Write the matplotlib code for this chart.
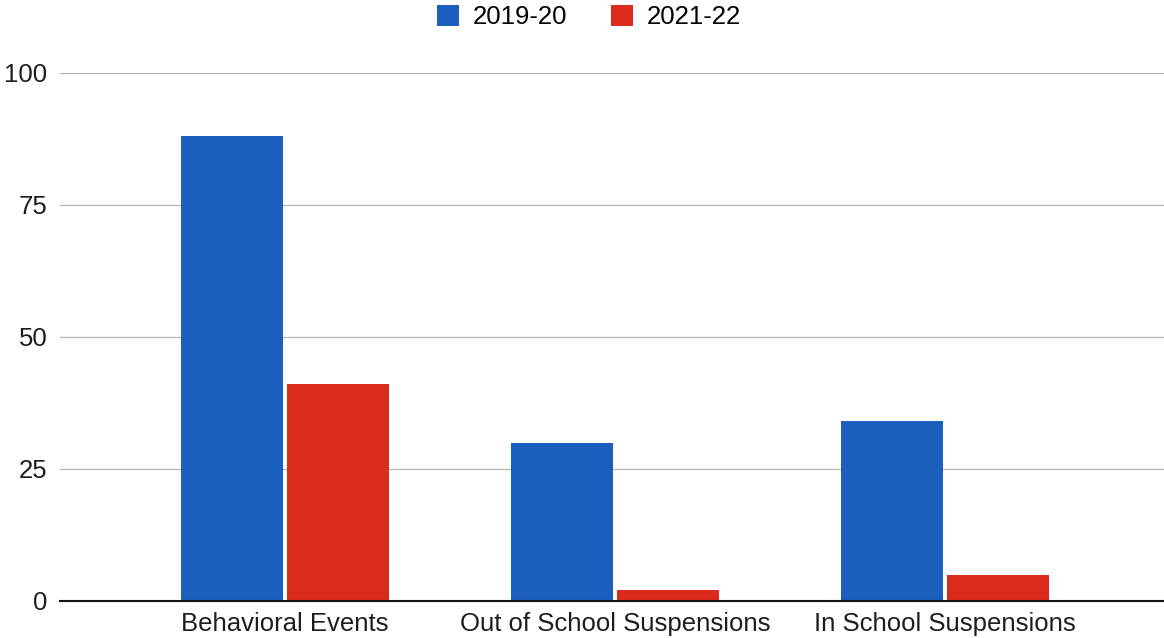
import matplotlib.pyplot as plt
import numpy as np

plt.rcParams['font.family'] = ['Liberation Sans', 'DejaVu Sans']

categories = ["Behavioral Events", "Out of School Suspensions", "In School Suspensions"]
series_names = ["2019-20", "2021-22"]
values_2019 = [88, 30, 34]
values_2021 = [41, 2, 5]
yticks = [0, 25, 50, 75, 100]

blue = "#1a5fbe"
red = "#dc2a1c"

fig = plt.figure(figsize=(11.64, 6.38), dpi=100)
ax = fig.add_axes([0.0515, 0.058, 0.9485, 0.828])

x = np.arange(len(categories))
w = 0.31
gap = 0.006
ax.bar(x - w / 2 - gap, values_2019, w, color=blue, label=series_names[0], zorder=3)
ax.bar(x + w / 2 + gap, values_2021, w, color=red, label=series_names[1], zorder=3)

ax.set_ylim(0, 100)
ax.set_xlim(-0.682, 2.664)
ax.set_yticks(yticks)
ax.set_xticks(x)
ax.set_xticklabels(categories)
ax.tick_params(axis='both', length=0, labelsize=18.5, colors="#1e1e1e")
ax.tick_params(axis='y', pad=9)
ax.tick_params(axis='x', pad=8)
ax.yaxis.grid(True, color="#b4b4b4", linewidth=0.9, zorder=0)

for side in ["top", "right", "left"]:
    ax.spines[side].set_visible(False)
ax.spines["bottom"].set_color("#111111")
ax.spines["bottom"].set_linewidth(1.5)
ax.spines["bottom"].set_zorder(4)

fig.legend(loc="upper center", bbox_to_anchor=(0.506, 1.028), ncol=2, frameon=False,
           fontsize=18.5, handlelength=0.85, handleheight=0.85, columnspacing=1.7,
           handletextpad=0.55)

fig.savefig("out.png", dpi=100)
